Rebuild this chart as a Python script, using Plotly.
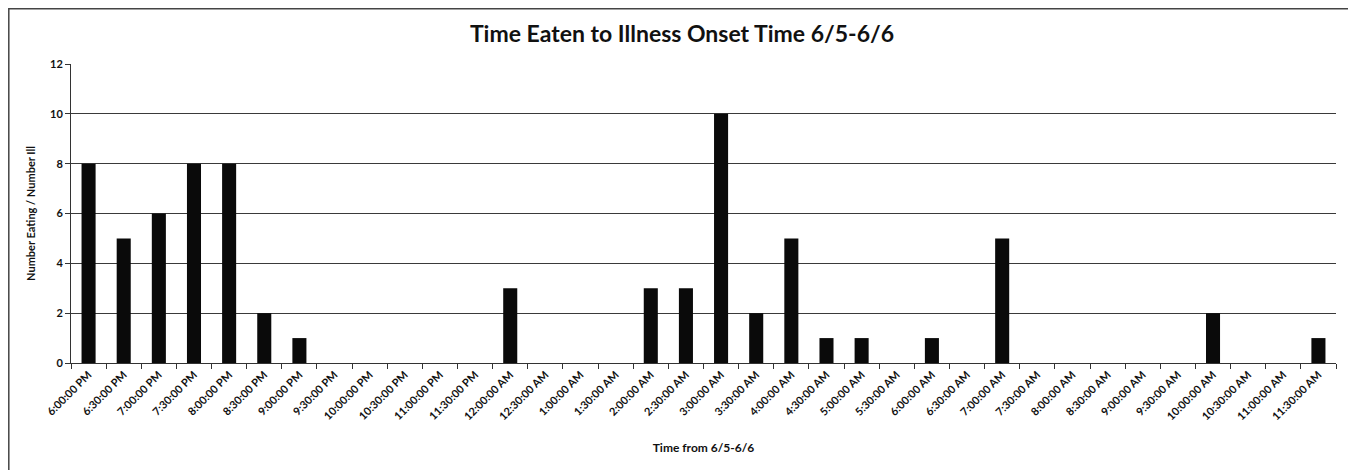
import plotly.graph_objects as go

times = ["6:00:00 PM", "6:30:00 PM", "7:00:00 PM", "7:30:00 PM", "8:00:00 PM", "8:30:00 PM",
         "9:00:00 PM", "9:30:00 PM", "10:00:00 PM", "10:30:00 PM", "11:00:00 PM", "11:30:00 PM",
         "12:00:00 AM", "12:30:00 AM", "1:00:00 AM", "1:30:00 AM", "2:00:00 AM", "2:30:00 AM",
         "3:00:00 AM", "3:30:00 AM", "4:00:00 AM", "4:30:00 AM", "5:00:00 AM", "5:30:00 AM",
         "6:00:00 AM", "6:30:00 AM", "7:00:00 AM", "7:30:00 AM", "8:00:00 AM", "8:30:00 AM",
         "9:00:00 AM", "9:30:00 AM", "10:00:00 AM", "10:30:00 AM", "11:00:00 AM", "11:30:00 AM"]
counts = [8, 5, 6, 8, 8, 2, 1, 0, 0, 0, 0, 0,
          3, 0, 0, 0, 3, 3, 10, 2, 5, 1, 1, 0,
          1, 0, 5, 0, 0, 0, 0, 0, 2, 0, 0, 1]
y_ticks = [0, 2, 4, 6, 8, 10, 12]

font_family = "Lato, 'Open Sans', sans-serif"

# page body has an 8px margin; figure is sized/offset to land the plot where the reference has it
W, H = 1348, 462
L, T, R, B = 63, 56, 20, 107
PW, PH = W - L - R, H - T - B

fig = go.Figure(go.Bar(x=times, y=counts, marker=dict(color="#0a0a0a", line=dict(width=0))))

fig.update_layout(
    width=W, height=H,
    margin=dict(l=L, r=R, t=T, b=B),
    paper_bgcolor="white", plot_bgcolor="white",
    bargap=0.6,
    showlegend=False,
    title=dict(text="<b>Time Eaten to Illness Onset Time 6/5-6/6</b>", x=0.5, xanchor="center",
               y=1 - 26 / H, yanchor="middle",
               font=dict(family=font_family, size=23, color="#111")),
    font=dict(family=font_family, color="#111"),
)

fig.update_xaxes(
    type="category", tickangle=-45, tickson="boundaries",
    ticks="outside", ticklen=5, tickcolor="#333",
    showline=True, linecolor="#333", linewidth=1,
    tickfont=dict(size=11, family=font_family, color="#111", weight="bold"),
    title=dict(text="<b>Time from 6/5-6/6</b>", font=dict(size=12, family=font_family), standoff=22),
    showgrid=False,
)
fig.update_yaxes(
    range=[0, 12], tickvals=y_ticks,
    showgrid=True, gridcolor="#3a3a3a", gridwidth=1.3,
    showline=True, linecolor="#333", linewidth=1,
    ticks="outside", ticklen=5, tickcolor="#333",
    tickfont=dict(size=11, family=font_family, color="#111", weight="bold"),
    title=dict(text="<b>Number Eating / Number Ill</b>", font=dict(size=11, family=font_family), standoff=12),
    zeroline=False,
)

fig.add_shape(type="rect", xref="paper", yref="paper",
              x0=(-L + 0.8) / PW, x1=(1349 - 8 - L) / PW,
              y0=-0.5, y1=(PH + T - 0.8) / PH,
              line=dict(color="#444", width=1.5), fillcolor="rgba(0,0,0,0)", layer="below")

fig.write_html("out.html")
